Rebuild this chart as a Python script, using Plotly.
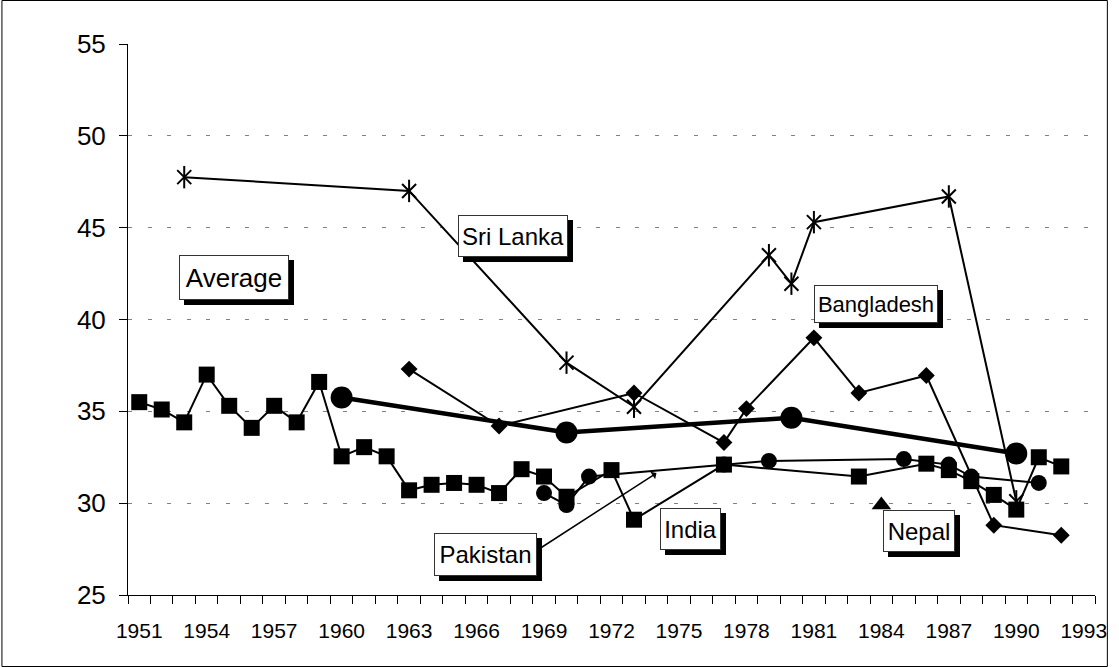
import plotly.graph_objects as go

# ---------------- data ----------------
india_years = [1951, 1952, 1953, 1954, 1955, 1956, 1957, 1958, 1959, 1960, 1961, 1962,
               1963, 1964, 1965, 1966, 1967, 1968, 1969, 1970, 1972, 1973, 1977, 1983,
               1986, 1987, 1988, 1989, 1990, 1991, 1992]
india_vals = [35.5, 35.1, 34.4, 37.0, 35.3, 34.1, 35.3, 34.4, 36.6, 32.55, 33.05, 32.55,
              30.7, 31.0, 31.1, 31.0, 30.55, 31.85, 31.45, 30.35, 31.8, 29.1, 32.1, 31.45,
              32.15, 31.8, 31.2, 30.45, 29.65, 32.5, 32.0]

pakistan_years = [1969, 1970, 1971, 1977, 1979, 1985, 1987, 1988, 1991]
pakistan_vals = [30.55, 29.9, 31.45, 32.1, 32.3, 32.4, 32.1, 31.45, 31.1]

bangladesh_years = [1963, 1967, 1973, 1977, 1978, 1981, 1983, 1986, 1989, 1992]
bangladesh_vals = [37.3, 34.2, 36.0, 33.3, 35.15, 39.0, 36.0, 36.95, 28.8, 28.25]

srilanka_years = [1953, 1963, 1970, 1973, 1979, 1980, 1981, 1987, 1990]
srilanka_vals = [47.75, 47.0, 37.65, 35.25, 43.5, 41.95, 45.3, 46.7, 30.1]

nepal_years = [1984]
nepal_vals = [29.9]

average_years = [1960, 1970, 1980, 1990]
average_vals = [35.75, 33.85, 34.65, 32.7]

x_tick_years = list(range(1951, 1994, 3))
y_ticks = [25, 30, 35, 40, 45, 50, 55]

# label boxes: text, year, value, width, height, font size
label_text = ["Average", "Sri Lanka", "Bangladesh", "India", "Pakistan", "Nepal"]
label_year = [1955.22, 1967.6, 1983.75, 1975.51, 1966.39, 1985.68]
label_value = [42.29, 44.54, 40.82, 28.58, 27.21, 28.47]
label_w = [110, 110, 124, 61, 103, 72]
label_h = [45, 42, 38, 42, 43, 42]
label_size = [26, 24, 22, 24, 24, 24]

# Pakistan pointer (head and tail, data units)
pak_arrow_head = (1974.0, 31.64)
pak_arrow_tail = (1968.61, 27.37)

FONT = "Liberation Sans, Arial, sans-serif"

fig = go.Figure()

fig.add_trace(go.Scatter(
    x=average_years, y=average_vals, mode="lines+markers", name="Average",
    line=dict(color="black", width=4.5),
    marker=dict(symbol="circle", size=22, color="black"),
    showlegend=False, hoverinfo="skip"))

fig.add_trace(go.Scatter(
    x=srilanka_years, y=srilanka_vals, mode="lines+markers", name="Sri Lanka",
    line=dict(color="black", width=2),
    marker=dict(symbol="x-thin-open", size=14, color="black",
                line=dict(color="black", width=2)),
    showlegend=False, hoverinfo="skip"))
fig.add_trace(go.Scatter(
    x=srilanka_years, y=srilanka_vals, mode="markers", name="Sri Lanka",
    marker=dict(symbol="line-ns-open", size=16, color="black",
                line=dict(color="black", width=2)),
    showlegend=False, hoverinfo="skip"))

fig.add_trace(go.Scatter(
    x=bangladesh_years, y=bangladesh_vals, mode="lines+markers", name="Bangladesh",
    line=dict(color="black", width=2),
    marker=dict(symbol="diamond", size=13, color="black"),
    showlegend=False, hoverinfo="skip"))

fig.add_trace(go.Scatter(
    x=pakistan_years, y=pakistan_vals, mode="lines+markers", name="Pakistan",
    line=dict(color="black", width=2),
    marker=dict(symbol="circle", size=16, color="black"),
    showlegend=False, hoverinfo="skip"))

fig.add_trace(go.Scatter(
    x=india_years, y=india_vals, mode="lines+markers", name="India",
    line=dict(color="black", width=2),
    marker=dict(symbol="square", size=16, color="black"),
    showlegend=False, hoverinfo="skip"))

fig.add_trace(go.Scatter(
    x=nepal_years, y=nepal_vals, mode="markers", name="Nepal",
    marker=dict(symbol="triangle-up", size=17, color="black"),
    showlegend=False, hoverinfo="skip"))

annotations = []
# arrow for Pakistan
annotations.append(dict(
    x=pak_arrow_head[0], y=pak_arrow_head[1], xref="x", yref="y",
    ax=pak_arrow_tail[0], ay=pak_arrow_tail[1], axref="x", ayref="y",
    text="", showarrow=True, arrowhead=1, arrowsize=1, arrowwidth=1.5,
    arrowcolor="black"))
for t, xv, yv, w, h, fs in zip(label_text, label_year, label_value, label_w, label_h, label_size):
    # shadow (box only)
    annotations.append(dict(
        x=xv, y=yv, xref="x", yref="y", text="\u00a0", showarrow=False,
        xshift=5, yshift=-5, width=w - 4, height=h - 4, borderpad=1,
        bgcolor="black", bordercolor="black", borderwidth=1,
        font=dict(family=FONT, size=fs, color="black")))
    # box
    annotations.append(dict(
        x=xv, y=yv, xref="x", yref="y", text=t, showarrow=False,
        width=w - 4, height=h - 4, borderpad=1,
        bgcolor="white", bordercolor="#333333", borderwidth=1,
        font=dict(family=FONT, size=fs, color="black")))

L, R, T, B = 128, 13, 44, 72
W, H = 1119, 667
pw, ph = W - L - R, H - T - B

fig.update_layout(
    width=W, height=H,
    margin=dict(l=L, r=R, t=T, b=B, pad=0),
    paper_bgcolor="white", plot_bgcolor="white",
    font=dict(family=FONT, color="black"),
    showlegend=False,
    annotations=annotations,
    shapes=[dict(type="rect", xref="paper", yref="paper",
                 x0=(0.5 - L) / pw, x1=(W - 0.5 - L) / pw,
                 y0=-(B - 0.5) / ph, y1=1 + (T - 0.5) / ph,
                 line=dict(color="black", width=1), fillcolor="rgba(0,0,0,0)",
                 layer="above")],
    xaxis=dict(
        range=[1950.5, 1993.5],
        tickmode="array", tickvals=x_tick_years, ticktext=[str(v) for v in x_tick_years],
        ticks="outside", ticklen=8, tickcolor="rgba(0,0,0,0)",
        tickfont=dict(family=FONT, size=21, color="black"),
        ticklabelstandoff=9,
        showline=True, linecolor="black", linewidth=1,
        showgrid=False, zeroline=False,
        minor=dict(tickmode="linear", tick0=1950.5, dtick=1, ticks="outside",
                   ticklen=8, tickcolor="black", tickwidth=1, showgrid=False),
    ),
    yaxis=dict(
        range=[25, 55],
        tickmode="array", tickvals=y_ticks,
        ticks="outside", ticklen=8, tickcolor="black",
        tickfont=dict(family=FONT, size=26, color="black"),
        ticklabelstandoff=8,
        showline=True, linecolor="black", linewidth=1,
        showgrid=True, gridcolor="#808080", gridwidth=1, griddash="4px,15.5px",
        zeroline=False,
    ),
)

fig.write_html("out.html",
               config={"displayModeBar": False},
               post_script="document.body.style.margin='0px';document.body.style.overflow='hidden';")
